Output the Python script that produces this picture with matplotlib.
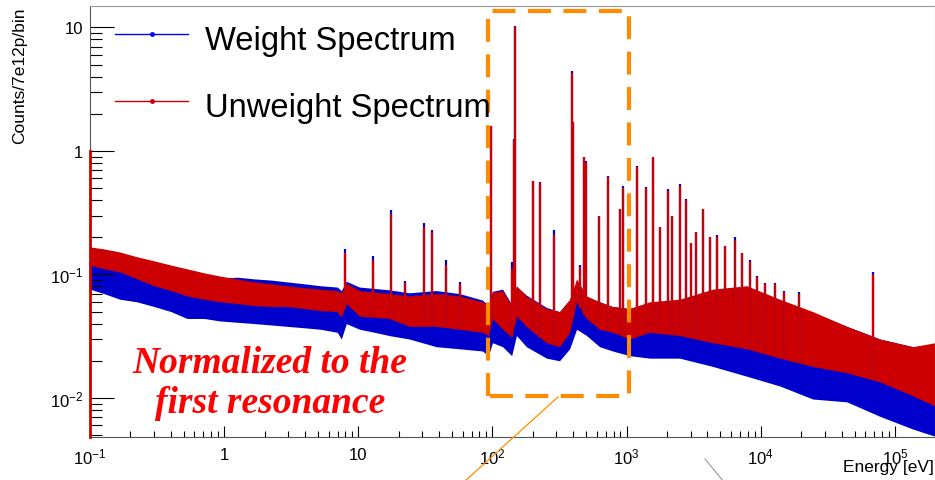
import numpy as np
import matplotlib
matplotlib.use('Agg')
import matplotlib.pyplot as plt
from matplotlib.lines import Line2D
from matplotlib.ticker import FixedLocator, FixedFormatter, NullFormatter

plt.rcParams['font.family'] = ['Liberation Sans', 'DejaVu Sans']
plt.rcParams['mathtext.fontset'] = 'custom'
plt.rcParams['mathtext.rm'] = 'Liberation Sans'
plt.rcParams['mathtext.it'] = 'Liberation Sans:italic'

# Envelope of the noisy spectra (energy in eV)
energy = [0.1, 0.127, 0.167, 0.224, 0.300, 0.402, 0.529, 0.709, 0.934, 1.25,
          1.68, 2.24, 2.95, 3.95, 5.2, 6.97, 7.47, 8.14, 10.2, 13.2,
          17.0, 24.0, 38.2, 56.7, 84.2, 93.3, 100, 119, 139, 151,
          179, 253, 316, 376, 424, 503, 629, 786, 1053, 1484,
          2486, 4384, 7863, 13860, 24440, 43840, 77300, 136200, 198800]

unweight_hi = [0.167, 0.161, 0.152, 0.139, 0.129, 0.119, 0.111, 0.103, 0.097, 0.092,
               0.087, 0.084, 0.081, 0.078, 0.076, 0.074, 0.071, 0.085, 0.074, 0.072,
               0.070, 0.067, 0.070, 0.067, 0.060, 0.055, 0.072, 0.074, 0.056, 0.081,
               0.067, 0.053, 0.050, 0.063, 0.092, 0.067, 0.060, 0.055, 0.053, 0.060,
               0.063, 0.076, 0.081, 0.063, 0.050, 0.038, 0.030, 0.026, 0.028]
unweight_lo = [0.119, 0.111, 0.105, 0.092, 0.081, 0.074, 0.067, 0.063, 0.060, 0.058,
               0.056, 0.055, 0.055, 0.053, 0.051, 0.050, 0.045, 0.058, 0.046, 0.045,
               0.044, 0.038, 0.038, 0.036, 0.034, 0.032, 0.044, 0.036, 0.031, 0.046,
               0.038, 0.028, 0.026, 0.034, 0.060, 0.044, 0.036, 0.034, 0.030, 0.034,
               0.032, 0.028, 0.025, 0.021, 0.018, 0.016, 0.0135, 0.0104, 0.0086]
weight_hi = [0.150, 0.145, 0.138, 0.127, 0.118, 0.110, 0.103, 0.097, 0.093, 0.095,
             0.092, 0.090, 0.087, 0.084, 0.081, 0.079, 0.074, 0.088, 0.079, 0.077,
             0.075, 0.071, 0.074, 0.070, 0.062, 0.056, 0.073, 0.076, 0.057, 0.080,
             0.068, 0.054, 0.050, 0.062, 0.088, 0.066, 0.060, 0.055, 0.053, 0.059,
             0.061, 0.072, 0.078, 0.062, 0.049, 0.038, 0.030, 0.026, 0.027]
weight_lo = [0.076, 0.070, 0.063, 0.060, 0.055, 0.050, 0.044, 0.044, 0.042, 0.041,
             0.040, 0.039, 0.038, 0.037, 0.036, 0.034, 0.030, 0.040, 0.036, 0.034,
             0.032, 0.030, 0.026, 0.025, 0.024, 0.022, 0.028, 0.026, 0.022, 0.032,
             0.026, 0.021, 0.020, 0.025, 0.036, 0.032, 0.026, 0.024, 0.022, 0.021,
             0.021, 0.018, 0.015, 0.0125, 0.0098, 0.0093, 0.0071, 0.0056, 0.0049]

# Resonance peaks: energy (eV), unweighted height, weighted height
peak_energy = [7.9, 12.9, 17.5, 22.4, 31, 35.5, 45, 57, 98.3, 139,
               145, 148, 201, 228, 290, 395, 400, 450, 485, 495,
               618, 721, 887, 935, 1190, 1390, 1560, 1770, 2030, 2180,
               2500, 2750, 3000, 3300, 3700, 4200, 4700, 5400, 6400, 7300,
               8300, 9300, 10700, 12700, 15000, 19400, 69000]
peak_unweight = [0.15, 0.13, 0.31, 0.085, 0.24, 0.22, 0.12, 0.084, 1.6, 0.11,
                 1.2, 10.0, 0.57, 0.55, 0.21, 4.3, 1.7, 0.115, 0.9, 0.8,
                 0.3, 0.62, 0.34, 0.5, 0.74, 0.5, 0.9, 0.24, 0.47, 0.3,
                 0.52, 0.4, 0.18, 0.22, 0.34, 0.2, 0.2, 0.17, 0.19, 0.15,
                 0.125, 0.095, 0.084, 0.084, 0.072, 0.07, 0.1]
peak_weight = [0.16, 0.14, 0.33, 0.088, 0.26, 0.23, 0.13, 0.087, 1.6, 0.126,
               1.25, 10.3, 0.57, 0.56, 0.23, 4.4, 1.7, 0.12, 0.9, 0.83,
               0.3, 0.63, 0.34, 0.52, 0.76, 0.51, 0.88, 0.24, 0.49, 0.3,
               0.54, 0.41, 0.18, 0.22, 0.34, 0.2, 0.21, 0.17, 0.2, 0.15,
               0.13, 0.098, 0.086, 0.086, 0.074, 0.072, 0.105]

x_ticks = [0.1, 1, 10, 100, 1e3, 1e4, 1e5]
x_tick_labels = ['$10^{-1}$', '1', '10', '$10^{2}$', '$10^{3}$', '$10^{4}$', '$10^{5}$']
y_ticks = [0.01, 0.1, 1, 10]
y_tick_labels = ['$10^{-2}$', '$10^{-1}$', '1', '10']

RED = '#cc0000'
BLUE = '#0000cc'
ORANGE = '#ff8c00'

W, H = 935, 481
fig = plt.figure(figsize=(W / 100, H / 100), dpi=100)
ax = fig.add_axes([90 / W, 1 - 438 / H, 1 - 90 / W, (438 - 7) / H])
ax.set_xscale('log')
ax.set_yscale('log')
ax.set_xlim(0.1, 1.99e5)
ax.set_ylim(0.00483, 14.9)

# spectra bands
ax.fill_between(energy, weight_lo, weight_hi, color=BLUE, lw=0, zorder=1)
ax.fill_between(energy, unweight_lo, unweight_hi, color=RED, lw=0, zorder=2)

# resonance peaks, rising from the lower edge of the band
base = 10 ** np.interp(np.log10(peak_energy), np.log10(energy), np.log10(unweight_lo))
ax.vlines(peak_energy, base, peak_weight, color=BLUE, lw=1.6, zorder=3)
ax.vlines(peak_energy, base, peak_unweight, color=RED, lw=1.6, zorder=4)

# red edge of the first histogram bin along the left axis
ax.plot([0.1, 0.1], [0.00483, 1.0], color=RED, lw=2, clip_on=False, zorder=5)

# axes style (ROOT-like)
for side in ['top', 'right']:
    ax.spines[side].set_color('#999999')
for side in ['left', 'bottom']:
    ax.spines[side].set_color('#555555')
ax.xaxis.set_major_locator(FixedLocator(x_ticks))
ax.xaxis.set_major_formatter(FixedFormatter(x_tick_labels))
ax.yaxis.set_major_locator(FixedLocator(y_ticks))
ax.yaxis.set_major_formatter(FixedFormatter(y_tick_labels))
x_minor = [m * 10.0 ** d for d in range(-1, 6) for m in range(2, 10)]
y_minor = [m * 10.0 ** d for d in range(-3, 2) for m in range(2, 10)]
ax.xaxis.set_minor_locator(FixedLocator(x_minor))
ax.yaxis.set_minor_locator(FixedLocator(y_minor))
ax.xaxis.set_minor_formatter(NullFormatter())
ax.yaxis.set_minor_formatter(NullFormatter())
ax.tick_params(axis='x', which='major', direction='in', length=8, width=0.8,
               labelsize=12, pad=7, top=False)
ax.tick_params(axis='x', which='minor', direction='in', length=4.5, width=0.8, top=False)
ax.tick_params(axis='y', which='major', direction='in', length=17, width=0.8,
               labelsize=12, pad=5, right=False)
ax.tick_params(axis='y', which='minor', direction='in', length=8.5, width=0.8, right=False)

# axis titles
fig.text(20 / W, 1 - 8 / H, 'Counts/7e12p/bin', rotation=90, ha='center', va='top',
         fontsize=12.5)
fig.text(934 / W, 1 - 468 / H, 'Energy [eV]', ha='right', va='center', fontsize=12.5)

# legend
for y_px, col, label, base_px in [(35, '#0000ff', 'Weight Spectrum', 50),
                                  (102, RED, 'Unweight Spectrum', 117)]:
    fig.add_artist(Line2D([115 / W, 152 / W, 188 / W], [1 - y_px / H] * 3, color=col,
                          lw=1, marker='o', markersize=2.5, markevery=[1]))
    fig.text(205 / W, 1 - base_px / H, label, ha='left', va='baseline', fontsize=23.6)

# annotation
txt_style = dict(ha='center', va='baseline', fontsize=27, color='#ff0000',
                 family='Liberation Serif', weight='bold', style='italic')
fig.text(270 / W, 1 - 373 / H, 'Normalized to the', **txt_style)
fig.text(270 / W, 1 - 413 / H, 'first resonance', **txt_style)

box_x = [93.3, 93.3, 1035, 1035, 93.3]
box_y = [0.0104, 13.6, 13.6, 0.0104, 0.0104]
ax.plot(box_x, box_y, color=ORANGE, lw=3, linestyle=(0, (5.5, 3)), clip_on=False,
        zorder=6, solid_joinstyle='miter', dash_joinstyle='miter')
fig.add_artist(Line2D([558 / W, 464 / W], [1 - 398 / H, 1 - 483 / H], color=ORANGE, lw=0.9))
fig.add_artist(Line2D([705 / W, 724 / W], [1 - 460 / H, 1 - 483 / H], color='#999999', lw=0.8))

fig.savefig('out.png', dpi=100)
